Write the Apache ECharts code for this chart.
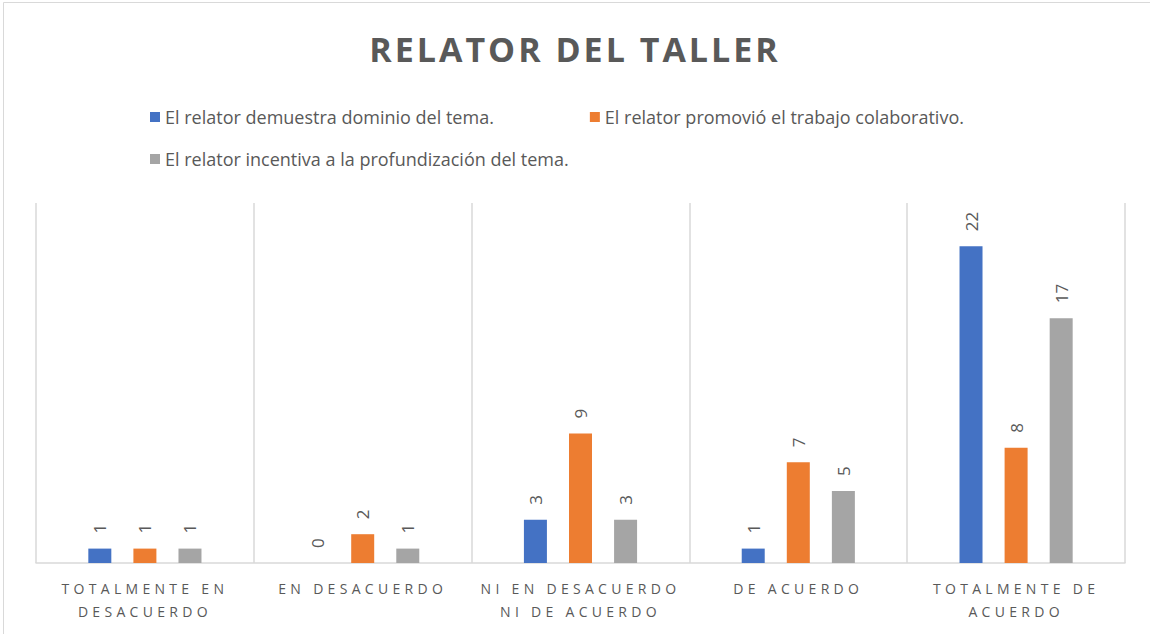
<!DOCTYPE html>
<html>
<head>
<meta charset="utf-8">
<script src="https://cdn.jsdelivr.net/npm/echarts@6/dist/echarts.min.js"></script>
<style>
  body { margin: 0; background: #fff; }
  #main { width: 1150px; height: 634px; }
  /* letter spacing for title and axis labels (svg renderer) */
  #main text[style*="34px"] { letter-spacing: 3px; }
  #main text[style*="14px"] { letter-spacing: 4.3px; }
</style>
</head>
<body>
<div id="main"></div>
<script>
// categorías y valores
const categories = [
    'TOTALMENTE EN\nDESACUERDO',
    'EN DESACUERDO',
    'NI EN DESACUERDO\nNI DE ACUERDO',
    'DE ACUERDO',
    'TOTALMENTE DE\nACUERDO'
];
const seriesNames = [
    'El relator demuestra dominio del tema.',
    'El relator promovió el trabajo colaborativo.',
    'El relator incentiva a la profundización del tema.'
];
const dominio = [1, 0, 3, 1, 22];
const colaborativo = [1, 2, 9, 7, 8];
const profundizacion = [1, 1, 3, 5, 17];
const colors = ['#4472C4', '#ED7D31', '#A5A5A5'];

const chart = echarts.init(document.getElementById('main'), null, { renderer: 'svg' });

const makeSeries = (name, data, color) => ({
    name: name,
    type: 'bar',
    data: data,
    barWidth: 23,
    barGap: '96%',
    itemStyle: { color: color },
    label: {
        show: true,
        position: 'top',
        rotate: 90,
        align: 'left',
        verticalAlign: 'middle',
        distance: 15,
        color: '#595959',
        fontSize: 17,
        fontFamily: 'Open Sans'
    }
});

const legendText = { fontSize: 18, color: '#595959', fontFamily: 'Open Sans' };

const option = {
    animation: false,
    color: colors,
    title: {
        text: 'RELATOR DEL TALLER',
        left: 'center',
        top: 27,
        textStyle: { fontSize: 34, fontWeight: 'bold', color: '#595959', fontFamily: 'Open Sans' }
    },
    legend: [
        {
            data: [seriesNames[0], seriesNames[1]],
            left: 145, top: 103,
            icon: 'rect', itemWidth: 10, itemHeight: 10, itemGap: 96,
            textStyle: legendText
        },
        {
            data: [seriesNames[2]],
            left: 145, top: 145,
            icon: 'rect', itemWidth: 10, itemHeight: 10,
            textStyle: legendText
        }
    ],
    grid: { left: 36, right: 25, top: 203, bottom: 71 },
    xAxis: {
        type: 'category',
        data: categories,
        axisLine: { lineStyle: { color: '#d9d9d9', width: 1.5 } },
        axisTick: { show: false },
        splitLine: { show: true, interval: 0, lineStyle: { color: '#d9d9d9', width: 1.5 } },
        axisLabel: {
            interval: 0,
            margin: 14,
            color: '#595959',
            fontSize: 14,
            lineHeight: 23,
            fontFamily: 'Open Sans'
        }
    },
    yAxis: {
        type: 'value',
        min: 0,
        max: 25,
        show: false,
        splitLine: { show: false }
    },
    graphic: [{
        type: 'rect',
        shape: { x: 3.5, y: 2.5, width: 1170, height: 650 },
        style: { fill: 'none', stroke: '#d9d9d9', lineWidth: 1 },
        silent: true
    }],
    series: [
        makeSeries(seriesNames[0], dominio, colors[0]),
        makeSeries(seriesNames[1], colaborativo, colors[1]),
        makeSeries(seriesNames[2], profundizacion, colors[2])
    ]
};

chart.setOption(option);
window.addEventListener('resize', () => chart.resize());
</script>
</body>
</html>
